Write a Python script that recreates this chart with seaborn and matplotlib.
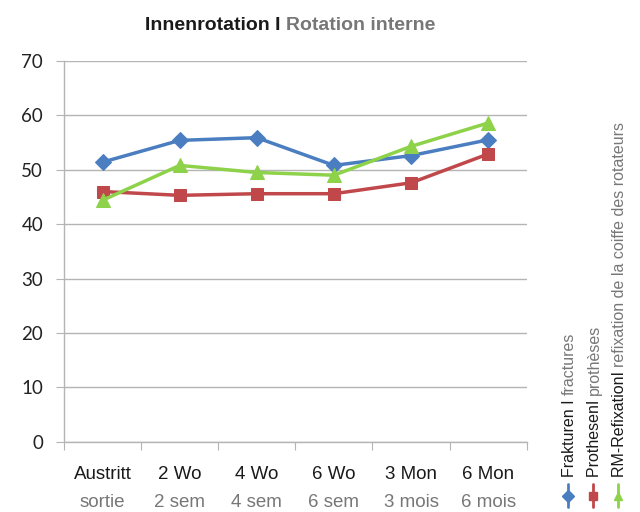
import seaborn as sns
import matplotlib.pyplot as plt
import pandas as pd
from matplotlib.lines import Line2D

zeitpunkte = ['Austritt', '2 Wo', '4 Wo', '6 Wo', '3 Mon', '6 Mon']
zeitpunkte_fr = ['sortie', '2 sem', '4 sem', '6 sem', '3 mois', '6 mois']
frakturen = [51.4, 55.4, 55.9, 50.8, 52.6, 55.5]
prothesen = [46.0, 45.3, 45.6, 45.6, 47.6, 52.9]
refixation = [44.4, 50.8, 49.5, 49.0, 54.3, 58.6]

gruppen = ['Frakturen', 'Prothesen', 'RM-Refixation']
legende_de = ['Frakturen I ', 'ProthesenI ', 'RM-RefixationI ']
legende_fr = ['fractures', 'prothèses', 'refixation de la coiffe des rotateurs']
farben = ['#4a7ec0', '#c0474a', '#8ed24a']
marker = ['D', 's', '^']
msize = [8, 9, 10]

dados = pd.DataFrame({
    'zeit': list(range(len(zeitpunkte))) * 3,
    'wert': frakturen + prothesen + refixation,
    'gruppe': [g for g in gruppen for _ in zeitpunkte],
})

sns.set_style('white')
plt.rcParams['font.family'] = ['Liberation Sans', 'DejaVu Sans']

fig = plt.figure(figsize=(6.4, 5.12), dpi=100)
ax = fig.add_axes([0.1, 0.137, 0.723, 0.744])

for g, c, m, s in zip(gruppen, farben, marker, msize):
    sns.lineplot(x='zeit', y='wert', data=dados[dados['gruppe'] == g], color=c,
                 marker=m, markersize=s, markeredgecolor=c, linewidth=2.5,
                 ax=ax, legend=False, zorder=3)

ax.set_xlim(-0.5, len(zeitpunkte) - 0.5)
ax.set_ylim(0, 70)
ax.set_yticks(range(0, 71, 10))
ax.yaxis.grid(True, color='#b4b4b4', linewidth=1)
ax.set_xlabel('')
ax.set_ylabel('')
for sp in ['top', 'right']:
    ax.spines[sp].set_visible(False)
for sp in ['left', 'bottom']:
    ax.spines[sp].set_color('#b4b4b4')
    ax.spines[sp].set_linewidth(1)

ax.tick_params(axis='y', length=6, color='#b4b4b4', labelsize=13.5, labelcolor='#222222', pad=9, left=True)
ax.set_yticklabels([str(v) for v in range(0, 71, 10)], family=['Lato', 'DejaVu Sans'])
ax.set_xticks([i - 0.5 for i in range(len(zeitpunkte) + 1)])
ax.set_xticklabels([])
ax.tick_params(axis='x', length=6, color='#b4b4b4', bottom=True)

for i, (de, fr) in enumerate(zip(zeitpunkte, zeitpunkte_fr)):
    ax.annotate(de, xy=(i, 0), xycoords=('data', 'axes fraction'), xytext=(0, -27),
                textcoords='offset points', ha='center', va='baseline', fontsize=13.5, color='#1a1a1a')
    ax.annotate(fr, xy=(i, 0), xycoords=('data', 'axes fraction'), xytext=(0, -47),
                textcoords='offset points', ha='center', va='baseline', fontsize=13.5, color='#777777')

# Titel
ty = 0.941
renderer = fig.canvas.get_renderer()
t1 = fig.text(0.5, ty, 'Innenrotation I ', ha='left', va='baseline', fontsize=14,
              fontweight='bold', color='#1a1a1a')
t2 = fig.text(0.5, ty, 'Rotation interne', ha='left', va='baseline', fontsize=14,
              fontweight='bold', color='#777777')
w1 = t1.get_window_extent(renderer=renderer).width / fig.bbox.width
w2 = t2.get_window_extent(renderer=renderer).width / fig.bbox.width
x0 = 0.454 - (w1 + w2) / 2
t1.set_position((x0, ty))
t2.set_position((x0 + w1, ty))

# Legende vertikal rechts
xs = [0.888, 0.927, 0.966]
for x, de, fr, c, m in zip(xs, legende_de, legende_fr, farben, marker):
    fig.add_artist(Line2D([x, x], [0.010, 0.054], color=c, linewidth=2, transform=fig.transFigure))
    fig.add_artist(Line2D([x], [0.032], color=c, marker=m, markersize=6, transform=fig.transFigure))
    ta = fig.text(x + 0.002, 0.068, de, rotation=90, ha='center', va='bottom', fontsize=11.5,
                  color='#1a1a1a')
    h = ta.get_window_extent(renderer=renderer).height / fig.bbox.height
    fig.text(x + 0.002, 0.068 + h, fr, rotation=90, ha='center', va='bottom', fontsize=11.5,
             color='#777777')

fig.savefig('out.png', dpi=100)
